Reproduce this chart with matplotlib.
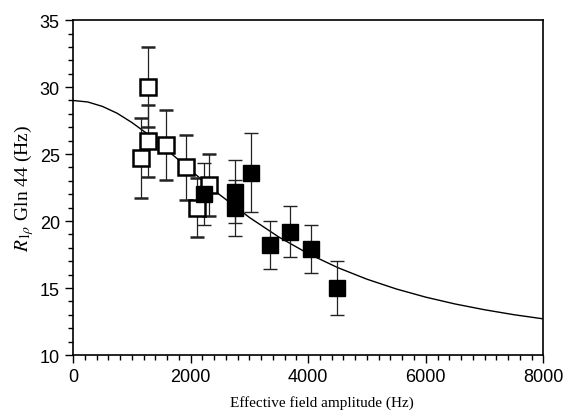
import matplotlib
matplotlib.use("Agg")
import matplotlib.pyplot as plt
from matplotlib.ticker import MultipleLocator

# Open squares (data set 1)
open_x = [1156, 1270, 1270, 1576, 1921, 2114, 2318]
open_y = [24.7, 30.0, 26.0, 25.7, 24.0, 21.0, 22.7]
open_err = [3.0, 3.0, 2.7, 2.6, 2.4, 2.2, 2.3]

# Filled squares (data set 2)
fill_x = [2233, 2755, 2755, 3027, 3350, 3695, 4042, 4489]
fill_y = [22.0, 22.2, 21.0, 23.6, 18.2, 19.2, 17.9, 15.0]
fill_err = [2.3, 2.35, 2.1, 2.95, 1.8, 1.9, 1.8, 2.0]

# Fit curve
curve_x = [0, 250, 500, 750, 1000, 1250, 1500, 1750, 2000, 2500, 3000, 3500,
           4000, 4500, 5000, 5500, 6000, 6500, 7000, 7500, 8000]
curve_y = [29.0, 28.89, 28.56, 28.05, 27.36, 26.56, 25.67, 24.74, 23.79,
           21.95, 20.27, 18.81, 17.57, 16.53, 15.66, 14.93, 14.32, 13.81,
           13.38, 13.01, 12.70]

plt.rcParams["mathtext.fontset"] = "stix"

fig = plt.figure(figsize=(5.66, 4.14), dpi=100)
ax = fig.add_axes([0.129, 0.140, 0.831, 0.809])

ax.plot(curve_x, curve_y, color="black", lw=1.0, zorder=2)

ax.errorbar(open_x, open_y, yerr=open_err, fmt="s", ms=12, mfc="white",
            mec="black", mew=1.8, ecolor="#222222", elinewidth=0.9,
            capsize=5, capthick=0.9, zorder=3)
ax.errorbar(fill_x, fill_y, yerr=fill_err, fmt="s", ms=12, mfc="black",
            mec="black", mew=1.0, ecolor="#222222", elinewidth=0.9,
            capsize=5, capthick=0.9, zorder=3)

ax.set_xlim(0, 8000)
ax.set_ylim(10, 35)
ax.xaxis.set_major_locator(MultipleLocator(2000))
ax.xaxis.set_minor_locator(MultipleLocator(200))
ax.yaxis.set_major_locator(MultipleLocator(5))
ax.yaxis.set_minor_locator(MultipleLocator(1))

ax.tick_params(which="both", direction="out", top=False, right=False,
               width=1.0, colors="black")
ax.tick_params(which="major", length=6)
ax.tick_params(which="minor", length=3.5)
for lab in ax.get_xticklabels() + ax.get_yticklabels():
    lab.set_fontfamily("Liberation Sans")
    lab.set_fontsize(13)

for sp in ax.spines.values():
    sp.set_linewidth(1.2)

ax.set_xlabel("Effective field amplitude (Hz)", fontfamily="Liberation Serif",
              fontsize=11, labelpad=7)
ax.xaxis.set_label_coords(0.53, -0.12)
ax.set_ylabel(r"$R_{1\rho}$ Gln 44 (Hz)", fontfamily="Liberation Serif",
              fontsize=14, labelpad=3)

fig.savefig("out.png", dpi=100)
